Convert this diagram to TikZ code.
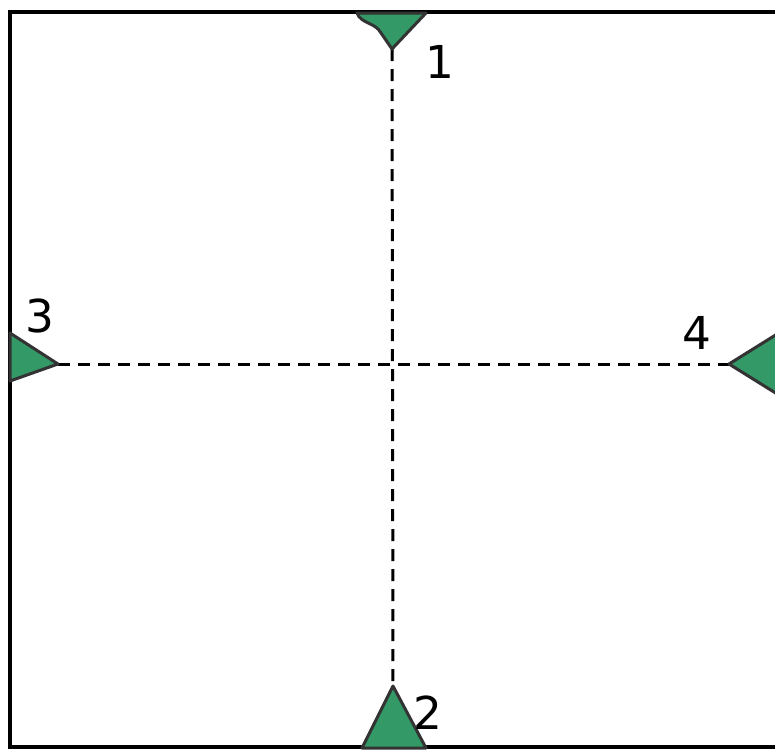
\documentclass[tikz,border=0pt]{standalone}
\usepackage{fontspec}
\setmainfont{DejaVu Sans}
\usepackage{xcolor}
\usepackage{tikz}

\definecolor{markgreen}{RGB}{51,153,102}
\definecolor{markedge}{RGB}{51,51,51}

\begin{document}
\begin{tikzpicture}[x=0.75pt,y=-0.75pt,
    marker/.style={fill=markgreen, draw=markedge, line width=2.25pt, line join=round},
    axisline/.style={line width=2.25pt, dash pattern=on 9pt off 6pt},
    numlabel/.style={font=\fontsize{34}{40}\selectfont, inner sep=0pt}]
    \clip (0,0) rectangle (775,750);

    % frame
    \draw[line width=3pt] (10,12) rectangle (800,747);

    % tips of the markers
    \coordinate (t1) at (392,49);
    \coordinate (t2) at (393,686);
    \coordinate (t3) at (58,364);
    \coordinate (t4) at (729,364);

    % dashed cross
    \draw[axisline] (t1) -- (t2);
    \draw[axisline] (t3) -- (t4);

    % Marker 1 (top)
    \filldraw[marker] (357,13) .. controls (361,24) and (375,22) .. (381,33) -- (t1) -- (426,13) -- cycle;
    \node[numlabel] (n1) at (440,62) {1};

    % Marker 2 (bottom)
    \filldraw[marker] (362,748) -- (t2) -- (426,748) -- cycle;
    \node[numlabel] (n2) at (428,713) {2};

    % Marker 3 (left)
    \filldraw[marker] (10,333) -- (t3) -- (10,381) -- cycle;
    \node[numlabel] (n3) at (40,316) {3};

    % Marker 4 (right)
    \filldraw[marker] (790,326) -- (t4) -- (790,402) -- cycle;
    \node[numlabel] (n4) at (697,333) {4};
\end{tikzpicture}
\end{document}
